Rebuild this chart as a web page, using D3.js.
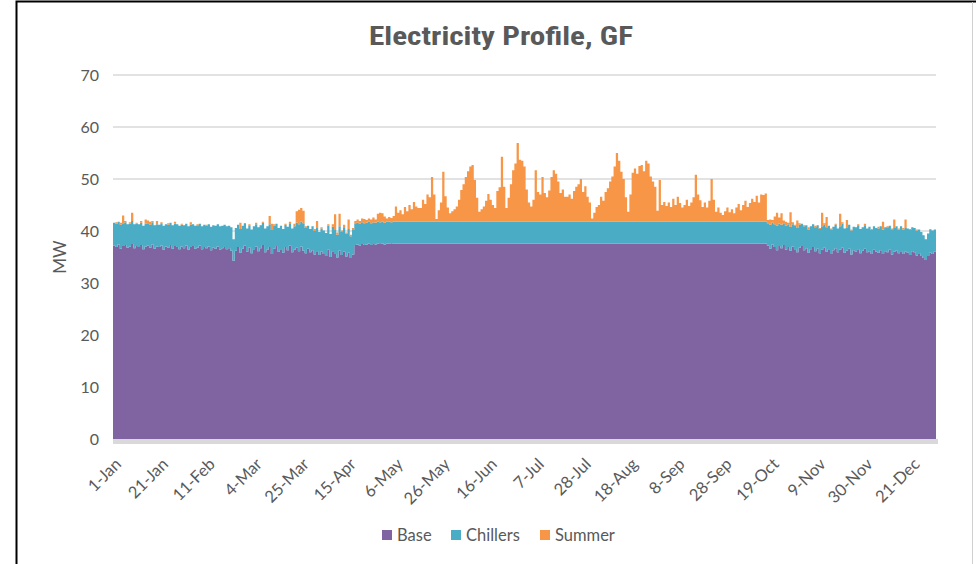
<!DOCTYPE html>
<html>
<head>
<meta charset="utf-8">
<script src="https://cdn.jsdelivr.net/npm/d3@7"></script>
<style>
  body { margin: 0; background: #fff; }
  svg { display: block; }
</style>
</head>
<body>
<div id="chart"></div>
<script>
// Tick labels (one every 500 hours of the year)
const tickLabels = ["1-Jan", "21-Jan", "11-Feb", "4-Mar", "25-Mar", "15-Apr", "6-May", "26-May", "16-Jun",
  "7-Jul", "28-Jul", "18-Aug", "8-Sep", "28-Sep", "19-Oct", "9-Nov", "30-Nov", "21-Dec"];
const yTicks = [0, 10, 20, 30, 40, 50, 60, 70];
const seriesNames = ["Base", "Chillers", "Summer"];
const seriesColors = ["#8064A2", "#4BACC6", "#F79646"];

// Daily values (MW), 1-Jan .. 31-Dec
const base = [
  37.2, 36.9, 37.4, 36.6, 37.1, 37.3, 36.8, 37.0, 37.5, 36.7, 37.1, 36.9, 37.3, 36.5, 37.0, 37.2, 36.8, 37.4, 36.6, 37.0,
  36.9, 37.2, 36.4, 37.0, 36.8, 37.3, 36.6, 37.1, 36.9, 36.5, 37.0, 36.7, 37.2, 36.4, 36.9, 37.1, 36.6, 36.8, 37.2, 36.5,
  36.9, 36.7, 37.0, 36.3, 36.8, 36.6, 37.0, 36.4, 36.7, 36.9, 36.5, 36.7, 36.2, 34.3, 36.2, 36.9, 35.8, 36.6, 37.2, 36.0,
  36.8, 35.7, 36.5, 37.0, 36.1, 36.7, 37.3, 35.9, 36.4, 36.9, 35.6, 36.6, 37.1, 36.0, 36.5, 35.8, 36.9, 36.3, 37.2, 35.9,
  36.4, 36.8, 36.1, 37.0, 36.2, 35.7, 36.6, 35.9, 36.3, 35.5, 36.1, 35.4, 36.0, 35.6, 35.2, 36.4, 35.0, 36.1, 35.6, 34.9,
  36.2, 35.4, 36.0, 35.1, 35.8, 34.8, 35.5, 37.3, 37.4, 37.2, 37.5, 37.3, 37.4, 37.6, 37.3, 37.5, 37.4, 37.6, 37.5, 37.6,
  37.4, 37.6, 37.6, 37.5, 37.6, 37.6, 37.6, 37.6, 37.6, 37.6, 37.6, 37.6, 37.6, 37.6, 37.6, 37.6, 37.6, 37.6, 37.6, 37.6,
  37.6, 37.6, 37.6, 37.6, 37.6, 37.6, 37.6, 37.6, 37.6, 37.6, 37.6, 37.6, 37.6, 37.6, 37.6, 37.6, 37.6, 37.6, 37.6, 37.6,
  37.6, 37.6, 37.6, 37.6, 37.6, 37.6, 37.6, 37.6, 37.6, 37.6, 37.6, 37.6, 37.6, 37.6, 37.6, 37.6, 37.6, 37.6, 37.6, 37.6,
  37.6, 37.6, 37.6, 37.6, 37.6, 37.6, 37.6, 37.6, 37.6, 37.6, 37.6, 37.6, 37.6, 37.6, 37.6, 37.6, 37.6, 37.6, 37.6, 37.6,
  37.6, 37.6, 37.6, 37.6, 37.6, 37.6, 37.6, 37.6, 37.6, 37.6, 37.6, 37.6, 37.6, 37.6, 37.6, 37.6, 37.6, 37.6, 37.6, 37.6,
  37.6, 37.6, 37.6, 37.6, 37.6, 37.6, 37.6, 37.6, 37.6, 37.6, 37.6, 37.6, 37.6, 37.6, 37.6, 37.6, 37.6, 37.6, 37.6, 37.6,
  37.6, 37.6, 37.6, 37.6, 37.6, 37.6, 37.6, 37.6, 37.6, 37.6, 37.6, 37.6, 37.6, 37.6, 37.6, 37.6, 37.6, 37.6, 37.6, 37.6,
  37.6, 37.6, 37.6, 37.6, 37.6, 37.6, 37.6, 37.6, 37.6, 37.6, 37.6, 37.6, 37.6, 37.6, 37.6, 37.6, 37.6, 37.6, 37.6, 37.6,
  37.6, 37.6, 37.6, 37.6, 37.6, 37.6, 37.6, 37.6, 37.6, 37.6, 37.2, 36.6, 37.4, 36.9, 36.3, 37.1, 36.7, 37.3, 36.4, 36.9,
  36.2, 37.0, 36.5, 35.9, 36.8, 37.1, 36.3, 36.7, 35.8, 36.5, 36.9, 36.1, 36.6, 35.7, 36.4, 36.8, 36.0, 36.5, 35.6, 36.3,
  36.7, 35.9, 36.4, 36.8, 35.8, 36.2, 36.6, 35.5, 36.3, 36.0, 36.5, 35.7, 36.2, 36.6, 35.9, 36.1, 35.6, 36.4, 36.0, 35.8,
  36.3, 35.6, 36.1, 35.9, 36.4, 35.5, 36.0, 36.2, 35.7, 36.1, 35.6, 36.0, 35.8, 35.4, 36.1, 35.9, 35.3, 35.7, 35.2, 34.8,
  34.4, 35.2, 35.8, 35.6, 36.0
];
const chillers = [
  4.4, 4.5, 4.4, 4.6, 4.4, 4.4, 4.5, 4.4, 4.4, 4.6, 4.3, 4.4, 4.3, 4.5, 4.4, 4.3, 4.4, 4.3, 4.5, 4.3,
  4.3, 4.3, 4.6, 4.3, 4.4, 4.3, 4.5, 4.3, 4.4, 4.5, 4.2, 4.4, 4.2, 4.5, 4.3, 4.2, 4.4, 4.3, 4.2, 4.4,
  4.3, 4.3, 4.3, 4.5, 4.3, 4.4, 4.3, 4.5, 4.3, 4.3, 4.4, 4.3, 4.5, 4.1, 4.4, 4.3, 4.6, 4.4, 4.3, 4.5,
  4.3, 4.6, 4.4, 4.3, 4.6, 4.4, 4.3, 4.6, 4.5, 4.4, 4.6, 4.4, 4.3, 4.6, 4.5, 4.6, 4.3, 4.5, 4.3, 4.6,
  4.5, 4.8, 5.2, 4.8, 5.3, 4.9, 4.4, 4.5, 4.6, 4.5, 4.6, 4.4, 4.5, 4.5, 4.4, 4.6, 4.4, 4.7, 4.6, 4.4,
  4.7, 4.4, 4.6, 4.4, 4.6, 4.2, 4.7, 4.2, 4.2, 4.2, 4.2, 4.2, 4.2, 4.2, 4.2, 4.2, 4.2, 4.2, 4.2, 4.2,
  4.2, 4.2, 4.2, 4.2, 4.2, 4.2, 4.2, 4.2, 4.2, 4.2, 4.2, 4.2, 4.2, 4.2, 4.2, 4.2, 4.2, 4.2, 4.2, 4.2,
  4.2, 4.2, 4.2, 4.2, 4.2, 4.2, 4.2, 4.2, 4.2, 4.2, 4.2, 4.2, 4.2, 4.2, 4.2, 4.2, 4.2, 4.2, 4.2, 4.2,
  4.2, 4.2, 4.2, 4.2, 4.2, 4.2, 4.2, 4.2, 4.2, 4.2, 4.2, 4.2, 4.2, 4.2, 4.2, 4.2, 4.2, 4.2, 4.2, 4.2,
  4.2, 4.2, 4.2, 4.2, 4.2, 4.2, 4.2, 4.2, 4.2, 4.2, 4.2, 4.2, 4.2, 4.2, 4.2, 4.2, 4.2, 4.2, 4.2, 4.2,
  4.2, 4.2, 4.2, 4.2, 4.2, 4.2, 4.2, 4.2, 4.2, 4.2, 4.2, 4.2, 4.2, 4.2, 4.2, 4.2, 4.2, 4.2, 4.2, 4.2,
  4.2, 4.2, 4.2, 4.2, 4.2, 4.2, 4.2, 4.2, 4.2, 4.2, 4.2, 4.2, 4.2, 4.2, 4.2, 4.2, 4.2, 4.2, 4.2, 4.2,
  4.2, 4.2, 4.2, 4.2, 4.2, 4.2, 4.2, 4.2, 4.2, 4.2, 4.2, 4.2, 4.2, 4.2, 4.2, 4.2, 4.2, 4.2, 4.2, 4.2,
  4.2, 4.2, 4.2, 4.2, 4.2, 4.2, 4.2, 4.2, 4.2, 4.2, 4.2, 4.2, 4.2, 4.2, 4.2, 4.2, 4.2, 4.2, 4.2, 4.2,
  4.2, 4.2, 4.2, 4.2, 4.2, 4.2, 4.2, 4.2, 4.2, 4.2, 4.3, 4.6, 4.2, 4.4, 4.7, 4.3, 4.5, 4.2, 4.6, 4.4,
  4.6, 4.3, 4.5, 4.7, 4.4, 4.3, 4.6, 4.4, 4.5, 4.4, 4.4, 4.6, 4.5, 4.7, 4.5, 4.4, 4.7, 4.5, 4.6, 4.5,
  4.5, 4.6, 4.5, 4.6, 4.7, 4.5, 4.6, 4.6, 4.5, 4.7, 4.6, 4.7, 4.5, 4.5, 4.6, 4.7, 4.6, 4.5, 4.6, 4.7,
  4.6, 4.7, 4.6, 4.8, 4.6, 4.7, 4.6, 4.7, 4.6, 4.8, 4.7, 4.6, 4.7, 4.8, 4.6, 4.7, 4.8, 4.6, 4.6, 4.4,
  4.0, 4.3, 4.4, 4.5, 4.3
];
const summer = [
  0, 0.3, 0, 0.4, 1.5, 0.2, 0, 0.3, 1.6, 0, 0.2, 0, 0.3, 0, 0.8, 0.5, 0.6, 0.2, 0, 0.6,
  0, 0.2, 0, 0, 0.3, 0, 0, 0.4, 0, 0, 0.2, 0, 0, 0, 0.5, 0, 0, 0.2, 0, 0,
  0, 0.2, 0, 0, 0, 0, 0, 0, 0, 0, 0, 0, 0, 0, 0, 0, 1.2, 0, 0, 0,
  0.2, 0, 0, 0.3, 0, 0, 0.2, 0, 0, 1.6, 1.2, 0.3, 0, 0, 0, 0, 0.2, 0, 0.3, 0,
  0.5, 2.2, 2.8, 2.6, 2.4, 0.3, 0, 0, 0, 0.4, 1.2, 0, 0.2, 0, 0, 0.3, 0, 0.5, 3.0, 0.4,
  2.4, 0.3, 0.6, 0.2, 1.8, 0.3, 0.4, 0.4, 0.6, 0.5, 0.7, 0.8, 0.5, 0.6, 0.7, 0.9, 0.6, 1.5, 1.8, 1.6,
  1.2, 0.6, 0.9, 0.8, 1.1, 2.9, 1.7, 2.2, 1.4, 2.8, 2.0, 3.2, 2.4, 3.8, 2.9, 2.6, 2.6, 4.2, 3.4, 5.2,
  4.7, 8.6, 5.2, 0.5, 2.2, 3.7, 9.6, 4.9, 2.7, 1.6, 2.0, 2.4, 2.9, 4.2, 6.1, 7.2, 8.6, 9.7, 10.6, 10.9,
  8.0, 4.6, 1.9, 2.4, 2.9, 4.0, 5.3, 4.2, 3.2, 2.6, 5.9, 6.6, 12.5, 6.7, 2.6, 4.6, 7.2, 9.9, 11.2, 15.1,
  11.9, 11.7, 10.6, 6.2, 3.7, 2.9, 4.2, 9.9, 5.7, 5.2, 8.6, 5.5, 4.7, 6.0, 8.6, 9.9, 9.2, 7.7, 5.5, 6.2,
  4.8, 4.8, 5.2, 4.4, 5.9, 6.7, 7.2, 8.2, 5.7, 6.8, 4.8, 3.7, 0.6, 1.7, 2.8, 3.2, 4.8, 4.0, 5.7, 6.4,
  7.7, 8.7, 10.6, 13.2, 11.7, 9.6, 8.2, 4.7, 1.9, 5.2, 9.4, 10.2, 9.2, 10.7, 10.9, 9.7, 11.7, 11.2, 8.7, 7.7,
  6.7, 2.1, 8.0, 3.2, 3.8, 3.0, 3.7, 2.8, 4.4, 3.2, 4.8, 3.6, 2.7, 3.2, 4.2, 3.0, 3.7, 4.7, 9.0, 5.2,
  4.1, 2.8, 3.7, 2.7, 4.0, 8.2, 4.2, 1.9, 2.7, 1.7, 1.3, 2.0, 2.7, 1.8, 2.4, 1.6, 2.7, 3.4, 2.2, 3.2,
  4.0, 2.8, 3.6, 4.4, 3.8, 5.0, 3.7, 5.2, 5.1, 5.4, 0.6, 1.0, 0.5, 1.5, 2.5, 1.2, 2.2, 0.5, 0.8, 0.3,
  2.8, 0.4, 0.2, 1.4, 0.3, 0, 0.2, 0, 0.4, 0, 0, 0.3, 0, 0.2, 2.6, 0.3, 2.0, 0, 0.3, 0,
  0.2, 0, 2.4, 0.3, 0, 1.4, 0, 0.2, 0, 0, 0.2, 0, 0, 0.3, 0, 0, 0.2, 0, 0, 0.3,
  0, 1.5, 0, 0.2, 0, 0.3, 1.6, 0, 0.2, 0, 0.3, 1.6, 0, 0.2, 0, 0, 0.2, 0, 0, 0,
  0, 0, 0.2, 0, 0
];

const width = 976, height = 564;
const plot = { left: 113, right: 936, top: 75, bottom: 439 };
const textColor = "#595959";
const font = "Lato, 'Open Sans', sans-serif";

const svg = d3.select("#chart")
  .append("svg")
  .attr("width", width)
  .attr("height", height);

// Frame
svg.append("path")
  .attr("d", `M16.5,${height} V1.5 H${width}`)
  .attr("fill", "none")
  .attr("stroke", "#000")
  .attr("stroke-width", 2);
svg.append("line")
  .attr("x1", 972.5).attr("x2", 972.5)
  .attr("y1", 2).attr("y2", height)
  .attr("stroke", "#d0d0d0");

// Title
svg.append("text")
  .attr("x", 501)
  .attr("y", 45)
  .attr("text-anchor", "middle")
  .attr("font-family", "'Roboto Condensed', 'Liberation Sans Narrow', sans-serif")
  .attr("font-weight", "bold")
  .attr("font-size", "25px")
  .attr("textLength", 264)
  .attr("lengthAdjust", "spacingAndGlyphs")
  .attr("fill", textColor)
  .text("Electricity Profile, GF");

// Scales
const nDays = base.length;
const xScale = d3.scaleLinear()
  .domain([0, nDays])
  .range([plot.left, plot.right]);

const yScale = d3.scaleLinear()
  .domain([0, 70])
  .range([plot.bottom, plot.top]);

// Gridlines + y labels
svg.append("g")
  .selectAll("line")
  .data(yTicks.filter(d => d > 0))
  .join("line")
  .attr("x1", plot.left)
  .attr("x2", plot.right)
  .attr("y1", d => yScale(d))
  .attr("y2", d => yScale(d))
  .attr("stroke", "#d9d9d9")
  .attr("stroke-width", 1.3);

svg.append("g")
  .selectAll("text")
  .data(yTicks)
  .join("text")
  .attr("x", 99)
  .attr("y", d => yScale(d))
  .attr("dy", "0.35em")
  .attr("text-anchor", "end")
  .attr("font-family", font)
  .attr("font-size", "16px")
  .attr("fill", textColor)
  .text(d => d);

// Y axis title
svg.append("text")
  .attr("transform", `translate(66,${(plot.top + plot.bottom) / 2}) rotate(-90)`)
  .attr("text-anchor", "middle")
  .attr("font-family", font)
  .attr("font-size", "17px")
  .attr("fill", textColor)
  .text("MW");

// Stack the three series
const rows = base.map((b, i) => ({ Base: b, Chillers: chillers[i], Summer: summer[i] }));
const layers = d3.stack().keys(seriesNames)(rows);

const area = d3.area()
  .x(p => xScale(p.x))
  .y0(p => yScale(p.y0))
  .y1(p => yScale(p.y1));

svg.append("g")
  .selectAll("path")
  .data(layers)
  .join("path")
  .attr("d", layer => area(layer.flatMap((d, i) => [
    { x: i, y0: d[0], y1: d[1] },
    { x: i + 1, y0: d[0], y1: d[1] }
  ])))
  .attr("fill", (d, i) => seriesColors[i]);

// Category axis line
svg.append("rect")
  .attr("x", plot.left)
  .attr("y", yScale(0))
  .attr("width", plot.right - plot.left + 2)
  .attr("height", 5)
  .attr("fill", "#d9d9d9");

// X tick labels, one every 500 hours
svg.append("g")
  .selectAll("text")
  .data(tickLabels)
  .join("text")
  .attr("transform", (d, k) => `translate(${xScale(k * 500 / 24) + 1},457) rotate(-45)`)
  .attr("text-anchor", "end")
  .attr("dy", "0.7em")
  .attr("font-family", font)
  .attr("font-size", "16.5px")
  .attr("fill", textColor)
  .text(d => d);

// Legend
const legendX = [382, 451, 540];
const legend = svg.append("g")
  .selectAll("g")
  .data(seriesNames)
  .join("g")
  .attr("transform", (d, i) => `translate(${legendX[i]},535)`);

legend.append("rect")
  .attr("x", 0)
  .attr("y", -5)
  .attr("width", 10)
  .attr("height", 10)
  .attr("fill", (d, i) => seriesColors[i]);

legend.append("text")
  .attr("x", 15)
  .attr("dy", "0.35em")
  .attr("font-family", font)
  .attr("font-size", "16.5px")
  .attr("fill", textColor)
  .text(d => d);
</script>
</body>
</html>
